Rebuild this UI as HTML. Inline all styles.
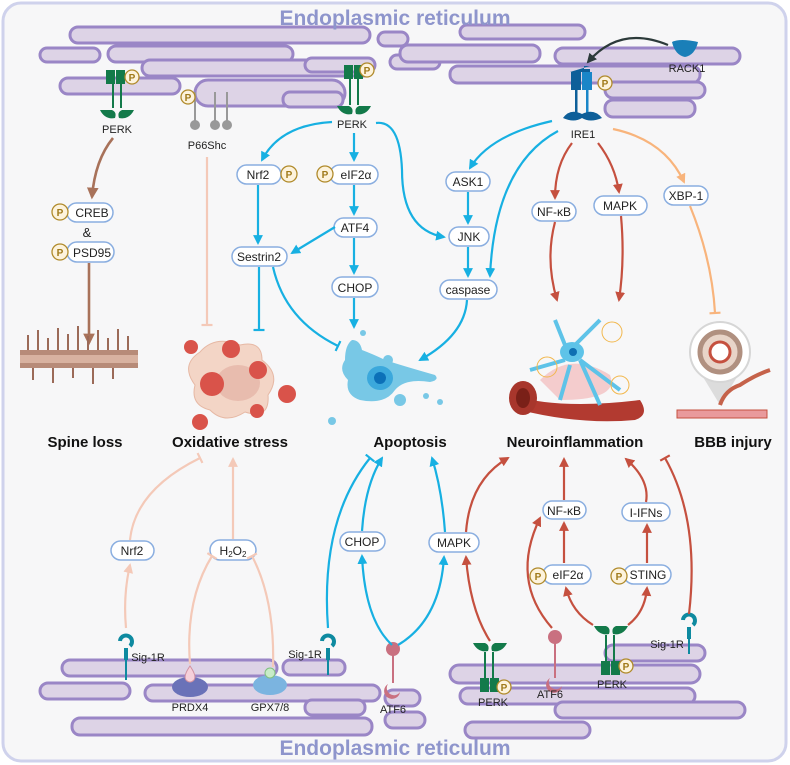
<!DOCTYPE html>
<html><head><meta charset="utf-8"><style>
body{margin:0;background:#fff}
svg{display:block;font-family:"Liberation Sans",sans-serif}
.t{font-size:12px;fill:#222;text-anchor:middle}
.s{font-size:11px;fill:#222;text-anchor:middle}
.b{font-size:15px;font-weight:bold;fill:#111;text-anchor:middle}
.er{fill:#ddd3e6;stroke:#9a86c6;stroke-width:3}
.pill{fill:#fff;stroke:#8aaee0;stroke-width:1.5}
.bl{fill:none;stroke:#17b0e2;stroke-width:2.2}
.rd{fill:none;stroke:#c5503f;stroke-width:2.2}
.pk{fill:none;stroke:#f4c9b8;stroke-width:2.2}
.br{fill:none;stroke:#a8725a;stroke-width:2.6}
.or{fill:none;stroke:#f8b47c;stroke-width:2.2}
.pc{fill:#fdf3dc;stroke:#b08a2a;stroke-width:1.3}
.pt{font-size:10px;font-weight:bold;fill:#a07a1a;text-anchor:middle}
</style></head><body>
<svg width="790" height="765" viewBox="0 0 790 765">
<defs>
<marker id="ab" viewBox="0 0 10 10" refX="8" refY="5" markerWidth="4.5" markerHeight="4.5" orient="auto"><path d="M0,0L10,5L0,10z" fill="#17b0e2"/></marker>
<marker id="ar" viewBox="0 0 10 10" refX="8" refY="5" markerWidth="4.5" markerHeight="4.5" orient="auto"><path d="M0,0L10,5L0,10z" fill="#c5503f"/></marker>
<marker id="ap" viewBox="0 0 10 10" refX="8" refY="5" markerWidth="4.5" markerHeight="4.5" orient="auto"><path d="M0,0L10,5L0,10z" fill="#f4c9b8"/></marker>
<marker id="abr" viewBox="0 0 10 10" refX="8" refY="5" markerWidth="4.5" markerHeight="4.5" orient="auto"><path d="M0,0L10,5L0,10z" fill="#a8725a"/></marker>
<marker id="ao" viewBox="0 0 10 10" refX="8" refY="5" markerWidth="4.5" markerHeight="4.5" orient="auto"><path d="M0,0L10,5L0,10z" fill="#f8b47c"/></marker>
<marker id="ak" viewBox="0 0 10 10" refX="8" refY="5" markerWidth="4.5" markerHeight="4.5" orient="auto"><path d="M0,0L10,5L0,10z" fill="#2c3a3a"/></marker>
<marker id="tb" viewBox="0 0 10 10" refX="5" refY="5" markerWidth="5" markerHeight="5" orient="auto"><path d="M5,0V10" stroke="#17b0e2" stroke-width="2"/></marker>
<marker id="tp" viewBox="0 0 10 10" refX="5" refY="5" markerWidth="5" markerHeight="5" orient="auto"><path d="M5,0V10" stroke="#f4c9b8" stroke-width="2"/></marker>
<marker id="tr" viewBox="0 0 10 10" refX="5" refY="5" markerWidth="5" markerHeight="5" orient="auto"><path d="M5,0V10" stroke="#c5503f" stroke-width="2"/></marker>
<marker id="to" viewBox="0 0 10 10" refX="5" refY="5" markerWidth="5" markerHeight="5" orient="auto"><path d="M5,0V10" stroke="#f8b47c" stroke-width="2"/></marker>
</defs>
<rect x="3" y="3" width="783" height="758" rx="18" fill="#f7f7f8" stroke="#cfd2ec" stroke-width="3"/>

<!-- top ER -->
<g>
<rect class="er" x="70" y="27" width="300" height="16" rx="8"/>
<rect class="er" x="40" y="48" width="60" height="14" rx="7"/>
<rect class="er" x="108" y="46" width="185" height="16" rx="8"/>
<rect class="er" x="142" y="60" width="230" height="16" rx="8"/>
<rect class="er" x="60" y="78" width="120" height="16" rx="8"/>
<rect class="er" x="195" y="80" width="150" height="26" rx="13"/>
<rect class="er" x="283" y="92" width="60" height="15" rx="7"/>
<rect class="er" x="305" y="58" width="70" height="14" rx="7"/>
<rect class="er" x="378" y="32" width="30" height="14" rx="7"/>
<rect class="er" x="390" y="55" width="50" height="14" rx="7"/>
<rect class="er" x="400" y="45" width="140" height="17" rx="8"/>
<rect class="er" x="460" y="25" width="125" height="14" rx="7"/>
<rect class="er" x="450" y="66" width="250" height="17" rx="8"/>
<rect class="er" x="555" y="48" width="185" height="16" rx="8"/>
<rect class="er" x="605" y="82" width="100" height="16" rx="8"/>
<rect class="er" x="605" y="100" width="90" height="17" rx="8"/>
</g>
<!-- bottom ER -->
<g>
<rect class="er" x="62" y="660" width="215" height="16" rx="8"/>
<rect class="er" x="283" y="660" width="62" height="15" rx="7"/>
<rect class="er" x="145" y="685" width="235" height="16" rx="8"/>
<rect class="er" x="40" y="683" width="90" height="16" rx="8"/>
<rect class="er" x="72" y="718" width="300" height="17" rx="8"/>
<rect class="er" x="305" y="700" width="60" height="15" rx="7"/>
<rect class="er" x="385" y="690" width="35" height="16" rx="8"/>
<rect class="er" x="385" y="712" width="40" height="16" rx="8"/>
<rect class="er" x="450" y="665" width="250" height="18" rx="9"/>
<rect class="er" x="605" y="645" width="100" height="16" rx="8"/>
<rect class="er" x="460" y="688" width="235" height="16" rx="8"/>
<rect class="er" x="555" y="702" width="190" height="16" rx="8"/>
<rect class="er" x="465" y="722" width="125" height="16" rx="8"/>
</g>

<text x="395" y="25" style="font-size:21px;font-weight:bold;fill:#8e95cc;text-anchor:middle">Endoplasmic reticulum</text>
<text x="395" y="755" style="font-size:21px;font-weight:bold;fill:#8e95cc;text-anchor:middle">Endoplasmic reticulum</text>

<!-- top proteins -->
<g fill="#137a4a">
<rect x="106" y="70" width="9" height="14"/><rect x="116" y="70" width="9" height="14"/>
<rect x="112" y="84" width="2" height="24"/><rect x="120" y="84" width="2" height="24"/>
<path d="M100,110 Q105,120 115,118 Q117,112 112,110z M134,110 Q129,120 119,118 Q117,112 122,110z"/>
<rect x="344" y="65" width="9" height="14"/><rect x="354" y="65" width="9" height="14"/>
<rect x="349" y="79" width="2" height="26"/><rect x="357" y="79" width="2" height="26"/>
<path d="M337,106 Q342,116 352,114 Q354,108 349,106z M371,106 Q366,116 356,114 Q354,108 359,106z"/>
</g>
<circle class="pc" cx="132" cy="77" r="7"/><text class="pt" x="132" y="81">P</text>
<circle class="pc" cx="367" cy="70" r="7"/><text class="pt" x="367" y="74">P</text>
<g stroke="#999" stroke-width="2"><line x1="195" y1="92" x2="195" y2="123"/><line x1="215" y1="92" x2="215" y2="123"/><line x1="227" y1="92" x2="227" y2="123"/></g>
<g fill="#999"><circle cx="195" cy="125" r="5"/><circle cx="215" cy="125" r="5"/><circle cx="227" cy="125" r="5"/></g>
<circle class="pc" cx="188" cy="97" r="7"/><text class="pt" x="188" y="101">P</text>
<text class="s" x="117" y="133">PERK</text>
<text class="s" x="207" y="149">P66Shc</text>
<text class="s" x="352" y="128">PERK</text>
<!-- IRE1 -->
<g fill="#0e5f99">
<path d="M570,72 h20 v-3 h-6 v-3 h6" fill="#0e5f99"/>
<rect x="571" y="72" width="10" height="18"/><rect x="582" y="72" width="10" height="18" fill="#1a86c8"/>
<rect x="575" y="90" width="2.5" height="25"/><rect x="586" y="90" width="2.5" height="25" fill="#1a86c8"/>
<path d="M563,118 Q570,108 582,114 Q594,108 602,118 Q590,123 582,118 Q574,123 563,118z"/>
</g>
<circle class="pc" cx="605" cy="83" r="7"/><text class="pt" x="605" y="87">P</text>
<text class="s" x="583" y="138">IRE1</text>
<path d="M672,42 Q680,38 698,42 Q695,55 685,57 Q675,55 672,42z" fill="#1a7fb8"/>
<text class="s" x="687" y="72">RACK1</text>
<path d="M668,45 Q620,25 588,62" fill="none" stroke="#2c3a3a" stroke-width="2.2" marker-end="url(#ak)"/>

<!-- pills top -->
<g>
<rect class="pill" x="67" y="203" width="46" height="19" rx="9.5"/><text class="t" x="92" y="217">CREB</text>
<circle class="pc" cx="60" cy="212" r="8"/><text class="pt" x="60" y="216">P</text>
<text class="t" x="87" y="237" style="font-size:13px">&amp;</text>
<rect class="pill" x="67" y="242" width="47" height="20" rx="10"/><text class="t" x="92" y="257">PSD95</text>
<circle class="pc" cx="60" cy="252" r="8"/><text class="pt" x="60" y="256">P</text>
<rect class="pill" x="237" y="165" width="44" height="19" rx="9.5"/><text class="t" x="258" y="179">Nrf2</text>
<circle class="pc" cx="289" cy="174" r="8"/><text class="pt" x="289" y="178">P</text>
<rect class="pill" x="330" y="165" width="48" height="19" rx="9.5"/><text class="t" x="356" y="179">eIF2α</text>
<circle class="pc" cx="325" cy="174" r="8"/><text class="pt" x="325" y="178">P</text>
<rect class="pill" x="334" y="218" width="43" height="19" rx="9.5"/><text class="t" x="355" y="232">ATF4</text>
<rect class="pill" x="232" y="247" width="55" height="19" rx="9.5"/><text class="t" x="259" y="261">Sestrin2</text>
<rect class="pill" x="332" y="277" width="46" height="20" rx="10"/><text class="t" x="355" y="292">CHOP</text>
<rect class="pill" x="446" y="172" width="44" height="19" rx="9.5"/><text class="t" x="468" y="186">ASK1</text>
<rect class="pill" x="449" y="227" width="40" height="19" rx="9.5"/><text class="t" x="469" y="241">JNK</text>
<rect class="pill" x="440" y="280" width="57" height="19" rx="9.5"/><text class="t" x="468" y="294">caspase</text>
<rect class="pill" x="532" y="202" width="44" height="19" rx="9.5"/><text class="t" x="554" y="216">NF-κB</text>
<rect class="pill" x="594" y="196" width="53" height="19" rx="9.5"/><text class="t" x="620" y="210">MAPK</text>
<rect class="pill" x="664" y="186" width="44" height="19" rx="9.5"/><text class="t" x="686" y="200">XBP-1</text>
</g>

<!-- top connectors -->
<path class="br" d="M113,138 Q95,160 92,197" marker-end="url(#abr)"/>
<path class="br" d="M89,263 V343" marker-end="url(#abr)"/>
<path class="pk" d="M207,157 V325" marker-end="url(#tp)"/>
<path class="bl" d="M332,122 Q280,125 262,160" marker-end="url(#ab)"/>
<path class="bl" d="M354,133 V160" marker-end="url(#ab)"/>
<path class="bl" d="M376,123 Q400,120 402,170 Q402,230 444,237" marker-end="url(#ab)"/>
<path class="bl" d="M258,185 V243" marker-end="url(#ab)"/>
<path class="bl" d="M335,227 L292,253" marker-end="url(#ab)"/>
<path class="bl" d="M354,185 V214" marker-end="url(#ab)"/>
<path class="bl" d="M354,238 V273" marker-end="url(#ab)"/>
<path class="bl" d="M354,298 V327" marker-end="url(#ab)"/>
<path class="bl" d="M259,267 V330" marker-end="url(#tb)"/>
<path class="bl" d="M273,267 Q285,320 338,346" marker-end="url(#tb)"/>
<path class="bl" d="M552,121 Q490,135 470,168" marker-end="url(#ab)"/>
<path class="bl" d="M468,192 V223" marker-end="url(#ab)"/>
<path class="bl" d="M468,247 V276" marker-end="url(#ab)"/>
<path class="bl" d="M558,131 Q495,165 490,276" marker-end="url(#ab)"/>
<path class="bl" d="M467,300 Q465,335 420,360" marker-end="url(#ab)"/>
<path class="rd" d="M572,143 Q555,165 555,198" marker-end="url(#ar)"/>
<path class="rd" d="M598,143 Q615,165 619,192" marker-end="url(#ar)"/>
<path class="rd" d="M555,222 Q545,260 557,300" marker-end="url(#ar)"/>
<path class="rd" d="M621,216 Q625,260 619,300" marker-end="url(#ar)"/>
<path class="or" d="M613,129 Q665,140 684,182" marker-end="url(#ao)"/>
<path class="or" d="M690,206 Q712,260 715,313" marker-end="url(#to)"/>

<!-- images -->
<!-- spine -->
<rect x="20" y="350" width="118" height="18" fill="#b78b78"/>
<rect x="20" y="355" width="118" height="8" fill="#d8b2a0"/>
<g stroke="#9b6a58" stroke-width="2">
<line x1="28" y1="350" x2="28" y2="335"/><line x1="38" y1="350" x2="38" y2="330"/><line x1="48" y1="350" x2="48" y2="338"/><line x1="58" y1="350" x2="58" y2="328"/><line x1="68" y1="350" x2="68" y2="334"/><line x1="78" y1="350" x2="78" y2="326"/><line x1="88" y1="350" x2="88" y2="336"/><line x1="98" y1="350" x2="98" y2="330"/><line x1="108" y1="350" x2="108" y2="338"/><line x1="118" y1="350" x2="118" y2="329"/><line x1="128" y1="350" x2="128" y2="336"/>
<line x1="33" y1="368" x2="33" y2="380"/><line x1="53" y1="368" x2="53" y2="383"/><line x1="73" y1="368" x2="73" y2="378"/><line x1="93" y1="368" x2="93" y2="384"/><line x1="113" y1="368" x2="113" y2="379"/>
</g>
<!-- oxidative -->
<path d="M200,352 Q215,335 240,345 Q262,340 262,360 Q282,375 268,395 Q270,420 245,412 Q225,425 210,410 Q190,405 195,385 Q180,365 200,352z" fill="#f3d5c6" stroke="#e6b8a4"/>
<ellipse cx="238" cy="383" rx="22" ry="18" fill="#e8bcae"/>
<g fill="#d9534a">
<circle cx="212" cy="384" r="12"/><circle cx="231" cy="349" r="9"/><circle cx="258" cy="370" r="9"/><circle cx="191" cy="347" r="7"/><circle cx="287" cy="394" r="9"/><circle cx="257" cy="411" r="7"/><circle cx="200" cy="422" r="8"/>
</g>
<!-- apoptosis -->
<path d="M352,340 Q360,340 362,350 Q375,355 385,360 Q400,365 435,375 Q440,380 430,382 Q405,378 395,390 Q385,405 360,400 Q345,395 348,380 Q338,370 345,360 Q345,345 352,340z" fill="#78c8e6"/>
<ellipse cx="380" cy="378" rx="13" ry="12" fill="#3ba8dc"/><circle cx="380" cy="378" r="6" fill="#0c70b8"/>
<g fill="#78c8e6"><circle cx="388" cy="360" r="5"/><circle cx="400" cy="400" r="6"/><circle cx="426" cy="396" r="3"/><circle cx="440" cy="402" r="3"/><circle cx="332" cy="421" r="4"/><circle cx="363" cy="333" r="3"/></g>
<!-- neuro -->
<path d="M510,395 Q560,410 640,400 Q650,415 635,420 Q580,425 520,410z" fill="#b23a30"/>
<ellipse cx="523" cy="398" rx="14" ry="17" fill="#a8362c"/><ellipse cx="523" cy="398" rx="7" ry="10" fill="#7a2018"/>
<path d="M540,380 Q570,350 610,375 Q620,400 560,400z" fill="#f3c1c2" opacity=".8"/>
<g stroke="#5ec3e8" stroke-width="4" fill="none">
<path d="M565,345 L555,320 M575,345 L600,320 M565,360 L530,370 M580,360 L620,390 M570,365 L560,400 M580,360 L600,405"/>
</g>
<ellipse cx="572" cy="352" rx="12" ry="10" fill="#5ec3e8"/><circle cx="573" cy="352" r="4" fill="#0e6fb2"/>
<g stroke="#f2b84e" stroke-width="1" fill="none"><circle cx="612" cy="332" r="10"/><circle cx="547" cy="367" r="10"/><circle cx="620" cy="385" r="9"/></g>
<!-- BBB -->
<path d="M700,372 L720,405 L740,372z" fill="#dcdcdc"/>
<circle cx="720" cy="352" r="30" fill="#fff" stroke="#d6d6d6" stroke-width="2"/>
<circle cx="720" cy="352" r="20" fill="#e8d4c8" stroke="#b09080" stroke-width="5"/>
<circle cx="720" cy="352" r="10" fill="#fff" stroke="#c5503f" stroke-width="3"/>
<path d="M720,405 Q725,390 740,385 Q755,375 770,370" stroke="#c5624a" stroke-width="4" fill="none"/>
<rect x="677" y="410" width="90" height="8" fill="#e99a9c" stroke="#c5503f"/>

<text class="b" x="85" y="447">Spine loss</text>
<text class="b" x="230" y="447">Oxidative stress</text>
<text class="b" x="410" y="447">Apoptosis</text>
<text class="b" x="575" y="447">Neuroinflammation</text>
<text class="b" x="733" y="447">BBB injury</text>

<!-- bottom pills -->
<rect class="pill" x="111" y="541" width="43" height="19" rx="9.5"/><text class="t" x="132" y="555">Nrf2</text>
<rect class="pill" x="210" y="540" width="46" height="20" rx="10"/><text class="t" x="233" y="555">H<tspan font-size="8" dy="2">2</tspan><tspan dy="-2">O</tspan><tspan font-size="8" dy="2">2</tspan></text>
<rect class="pill" x="340" y="532" width="45" height="19" rx="9.5"/><text class="t" x="362" y="546">CHOP</text>
<rect class="pill" x="429" y="533" width="50" height="19" rx="9.5"/><text class="t" x="454" y="547">MAPK</text>
<rect class="pill" x="543" y="501" width="43" height="18" rx="9"/><text class="t" x="564" y="515">NF-κB</text>
<rect class="pill" x="622" y="503" width="48" height="18" rx="9"/><text class="t" x="646" y="517">I-IFNs</text>
<rect class="pill" x="543" y="565" width="48" height="19" rx="9.5"/><text class="t" x="568" y="579">eIF2α</text>
<circle class="pc" cx="538" cy="576" r="8"/><text class="pt" x="538" y="580">P</text>
<rect class="pill" x="624" y="565" width="47" height="19" rx="9.5"/><text class="t" x="648" y="579">STING</text>
<circle class="pc" cx="619" cy="576" r="8"/><text class="pt" x="619" y="580">P</text>

<!-- bottom proteins -->
<g fill="#0e8aa0">
<path d="M120,641 a6,6 0 1 1 10,5" stroke="#0e8aa0" stroke-width="4" fill="none"/>
<rect x="124" y="648" width="4" height="12"/><rect x="125" y="660" width="2" height="20"/>
<path d="M322,641 a6,6 0 1 1 10,5" stroke="#0e8aa0" stroke-width="4" fill="none"/>
<rect x="326" y="648" width="4" height="12"/><rect x="327" y="660" width="2" height="15"/>
<path d="M683,620 a6,6 0 1 1 10,5" stroke="#0e8aa0" stroke-width="4" fill="none"/>
<rect x="687" y="627" width="4" height="12"/><rect x="688" y="639" width="2" height="15"/>
</g>
<text class="s" x="148" y="661">Sig-1R</text>
<text class="s" x="305" y="658">Sig-1R</text>
<text class="s" x="667" y="648">Sig-1R</text>
<ellipse cx="190" cy="687" rx="18" ry="10" fill="#6a72b8"/>
<path d="M190,666 Q183,676 186,680 Q190,684 194,680 Q197,676 190,666z" fill="#f6d0da" stroke="#d090a0"/>
<text class="s" x="190" y="711">PRDX4</text>
<ellipse cx="270" cy="685" rx="17" ry="10" fill="#7bb4e0"/>
<circle cx="270" cy="673" r="5" fill="#c8ecc8" stroke="#80c080"/>
<text class="s" x="270" y="711">GPX7/8</text>
<!-- ATF6s -->
<g fill="#c97080">
<circle cx="393" cy="649" r="7"/><rect x="392" y="655" width="2" height="28"/><path d="M388,684 a8,8 0 1 0 12,8 a5,5 0 0 1 -12,-8z"/>
<circle cx="555" cy="637" r="7"/><rect x="554" y="643" width="2" height="35"/><path d="M550,678 a8,8 0 1 0 12,8 a5,5 0 0 1 -12,-8z"/>
</g>
<text class="s" x="393" y="713">ATF6</text>
<text class="s" x="550" y="698">ATF6</text>
<!-- bottom PERKs -->
<g fill="#137a4a">
<path d="M473,643 Q478,653 488,651 Q490,645 485,643z M507,643 Q502,653 492,651 Q490,645 495,643z"/>
<rect x="484" y="652" width="2" height="26"/><rect x="492" y="652" width="2" height="26"/>
<rect x="480" y="678" width="9" height="14"/><rect x="490" y="678" width="9" height="14"/>
<path d="M594,626 Q599,636 609,634 Q611,628 606,626z M628,626 Q623,636 613,634 Q611,628 616,626z"/>
<rect x="605" y="635" width="2" height="26"/><rect x="613" y="635" width="2" height="26"/>
<rect x="601" y="661" width="9" height="14"/><rect x="611" y="661" width="9" height="14"/>
</g>
<circle class="pc" cx="504" cy="687" r="7"/><text class="pt" x="504" y="691">P</text>
<circle class="pc" cx="626" cy="666" r="7"/><text class="pt" x="626" y="670">P</text>
<text class="s" x="493" y="706">PERK</text>
<text class="s" x="612" y="688">PERK</text>

<!-- bottom connectors -->
<path class="pk" d="M126,628 Q123,595 130,565" marker-end="url(#ap)"/>
<path class="pk" d="M130,540 Q135,490 200,458" marker-end="url(#tp)"/>
<path class="pk" d="M190,664 Q185,600 212,556" marker-end="url(#tp)"/>
<path class="pk" d="M273,667 Q275,600 252,556" marker-end="url(#tp)"/>
<path class="pk" d="M233,539 V459" marker-end="url(#ap)"/>
<path class="bl" d="M328,628 Q320,520 370,458" marker-end="url(#tb)"/>
<path class="bl" d="M392,645 Q365,620 362,556" marker-end="url(#ab)"/>
<path class="bl" d="M362,531 Q365,485 382,458" marker-end="url(#ab)"/>
<path class="bl" d="M398,645 Q440,620 444,557" marker-end="url(#ab)"/>
<path class="bl" d="M445,532 Q442,490 432,458" marker-end="url(#ab)"/>
<path class="rd" d="M490,641 Q470,610 466,557" marker-end="url(#ar)"/>
<path class="rd" d="M466,532 Q470,480 508,458" marker-end="url(#ar)"/>
<path class="rd" d="M552,628 Q510,580 540,518" marker-end="url(#ar)"/>
<path class="rd" d="M564,563 V523" marker-end="url(#ar)"/>
<path class="rd" d="M564,500 V459" marker-end="url(#ar)"/>
<path class="rd" d="M647,563 V525" marker-end="url(#ar)"/>
<path class="rd" d="M646,502 Q650,480 626,459" marker-end="url(#ar)"/>
<path class="rd" d="M593,625 Q572,612 566,588" marker-end="url(#ar)"/>
<path class="rd" d="M628,625 Q645,612 647,588" marker-end="url(#ar)"/>
<path class="rd" d="M689,614 Q700,520 665,458" marker-end="url(#tr)"/>
</svg>
</body></html>
